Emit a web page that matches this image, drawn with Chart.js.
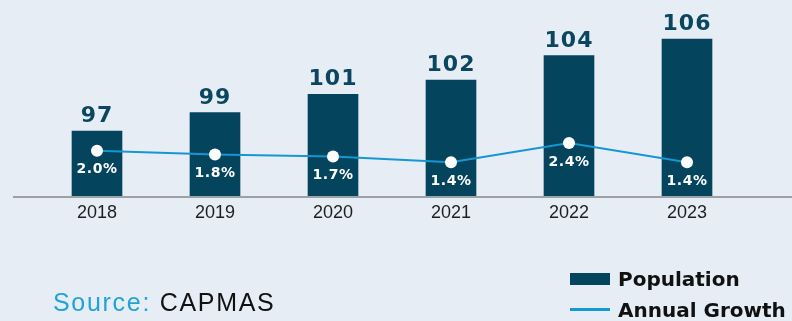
<!DOCTYPE html>
<html lang="en">
<head>
  <meta charset="UTF-8" />
  <title>Population and Annual Growth</title>
  <script src="https://cdn.jsdelivr.net/npm/chart.js"></script>
  <style>
    body {
      margin: 0;
      background-color: #e6edf5;
      width: 792px;
      height: 321px;
      overflow: hidden;
      position: relative;
    }

    #chart {
      position: absolute;
      left: 0;
      top: 0;
    }

    .source {
      position: absolute;
      left: 53px;
      top: 288px;
      font-family: 'Liberation Sans', Arial, sans-serif;
      font-size: 25px;
      letter-spacing: 1.7px;
      color: #111;
      white-space: nowrap;
    }

    .source span {
      color: #22a3d8;
    }

    .legend {
      position: absolute;
      left: 570px;
      top: 263px;
      font-family: 'DejaVu Sans', sans-serif;
      font-weight: bold;
      font-size: 20px;
      color: #111;
      white-space: nowrap;
    }

    .legend div {
      height: 31px;
      display: flex;
      align-items: center;
    }

    .legend i {
      display: inline-block;
      width: 40px;
      margin-right: 8px;
    }
  </style>
</head>
<body>
  <canvas id="chart" width="792" height="321"></canvas>
  <div class="source"><span>Source:</span> CAPMAS</div>
  <div class="legend" id="legend"></div>

  <script>
    const years = ['2018', '2019', '2020', '2021', '2022', '2023'];
    const population = [97.0, 98.8, 100.6, 102.0, 104.4, 106.0];
    const growth = [2.0, 1.8, 1.7, 1.4, 2.4, 1.4];

    const barColor = '#05445d';
    const lineColor = '#1597d3';

    // value labels + the long baseline under the bars
    const labelPlugin = {
      id: 'labels',
      afterDatasetsDraw(chart) {
        const ctx = chart.ctx;
        const area = chart.chartArea;
        ctx.save();

        ctx.strokeStyle = '#9ca1a8';
        ctx.lineWidth = 2;
        ctx.beginPath();
        ctx.moveTo(13, area.bottom + 0.5);
        ctx.lineTo(792, area.bottom + 0.5);
        ctx.stroke();

        ctx.textAlign = 'center';
        ctx.textBaseline = 'alphabetic';
        ctx.fillStyle = '#0b4660';
        ctx.font = 'bold 22px "DejaVu Sans"';
        ctx.letterSpacing = '1px';
        chart.getDatasetMeta(0).data.forEach((bar, i) => {
          ctx.fillText(population[i].toFixed(0), bar.x, bar.y - 9);
        });

        ctx.fillStyle = '#ffffff';
        ctx.font = 'bold 14px "DejaVu Sans"';
        ctx.letterSpacing = '0.6px';
        ctx.textBaseline = 'middle';
        chart.getDatasetMeta(1).data.forEach((pt, i) => {
          ctx.fillText(growth[i].toFixed(1) + '%', pt.x, pt.y + 19);
        });
        ctx.restore();
      }
    };

    const chart = new Chart(document.getElementById('chart'), {
      data: {
        labels: years,
        datasets: [
          {
            type: 'bar',
            label: 'Population',
            data: population,
            backgroundColor: barColor,
            barThickness: 50,
            yAxisID: 'y',
            order: 1
          },
          {
            type: 'line',
            label: 'Annual Growth',
            data: growth,
            borderColor: lineColor,
            borderWidth: 2,
            tension: 0,
            pointRadius: 6,
            pointBackgroundColor: '#ffffff',
            pointBorderWidth: 0,
            yAxisID: 'y1',
            order: 0
          }
        ]
      },
      options: {
        responsive: false,
        animation: false,
        layout: {
          padding: { top: 0, left: 38, right: 46, bottom: 91 }
        },
        plugins: {
          legend: { display: false },
          tooltip: { enabled: false }
        },
        scales: {
          x: {
            grid: { display: false, drawTicks: false },
            border: { display: false },
            ticks: {
              padding: 6,
              color: '#1e1e1e',
              font: { family: 'Liberation Sans', size: 18 }
            }
          },
          y: {
            display: false,
            min: 90.6,
            max: 109.25
          },
          y1: {
            display: false,
            min: -0.37,
            max: 9.5
          }
        }
      },
      plugins: [labelPlugin]
    });

    // legend built from the datasets
    const legend = document.getElementById('legend');
    chart.data.datasets.forEach((ds) => {
      const row = document.createElement('div');
      const key = document.createElement('i');
      if (ds.type === 'bar') {
        key.style.height = '12px';
        key.style.background = ds.backgroundColor;
      } else {
        key.style.height = '3px';
        key.style.background = ds.borderColor;
      }
      row.appendChild(key);
      row.appendChild(document.createTextNode(ds.label));
      legend.appendChild(row);
    });
  </script>
</body>
</html>
